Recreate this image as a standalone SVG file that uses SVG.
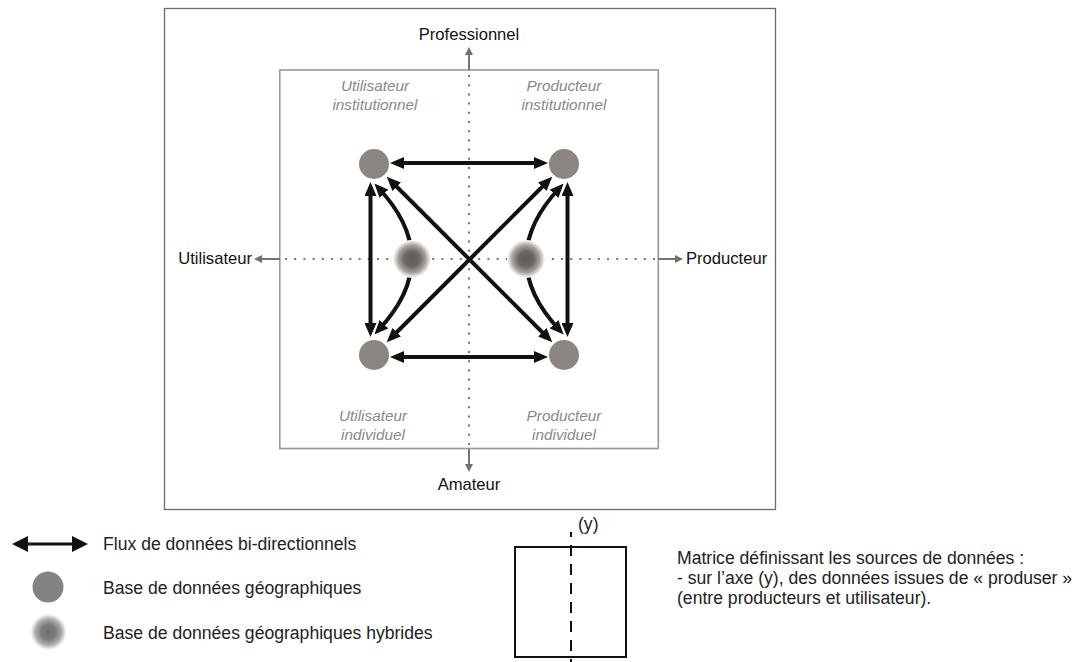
<svg xmlns="http://www.w3.org/2000/svg" width="1083" height="662" viewBox="0 0 1083 662">
<style>
.frame{fill:none;stroke:#6f6b68;stroke-width:1.3}
.inner{fill:none;stroke:#9b9793;stroke-width:1.6}
.dots{fill:none;stroke:#77736f;stroke-width:2;stroke-dasharray:2 7.2}
.ax{fill:none;stroke:#75716d;stroke-width:2}
.flow{fill:none;stroke:#111;stroke-width:4}
.node{fill:#8b8681}
.lbl{font-family:"Liberation Sans",Arial,sans-serif;font-size:16.6px;fill:#111}
.quad{font-family:"Liberation Sans",Arial,sans-serif;font-size:15.3px;font-style:italic;fill:#8c8783;text-anchor:middle}
.leg{font-family:"Liberation Sans",Arial,sans-serif;font-size:17.6px;fill:#222}
</style>
<defs>
<marker id="ah" viewBox="0 0 14 12" refX="8" refY="6" markerWidth="14" markerHeight="12" markerUnits="userSpaceOnUse" orient="auto-start-reverse"><path d="M0,0 L14,6 L0,12 z" fill="#111"/></marker>
<marker id="ahL" viewBox="0 0 16 16" refX="10" refY="8" markerWidth="16" markerHeight="16" markerUnits="userSpaceOnUse" orient="auto-start-reverse"><path d="M0,0 L16,8 L0,16 z" fill="#111"/></marker>
<marker id="ag" viewBox="0 0 8 8" refX="4" refY="4" markerWidth="8" markerHeight="8" markerUnits="userSpaceOnUse" orient="auto"><path d="M0,0 L8,4 L0,8 z" fill="#75716d"/></marker>
<radialGradient id="hyb" cx="0.5" cy="0.5" r="0.5">
<stop offset="0" stop-color="#605b57"/>
<stop offset="0.4" stop-color="#6b6662"/>
<stop offset="0.72" stop-color="#a5a19d"/>
<stop offset="1" stop-color="#ffffff"/>
</radialGradient>
<radialGradient id="hybL" cx="0.5" cy="0.5" r="0.5">
<stop offset="0" stop-color="#727272"/>
<stop offset="0.4" stop-color="#7c7c7c"/>
<stop offset="0.72" stop-color="#ababab"/>
<stop offset="1" stop-color="#ffffff"/>
</radialGradient>
</defs>
<rect width="1083" height="662" fill="#fff"/>
<g id="frame">
<rect class="frame" x="164.5" y="8.5" width="611" height="501"/>
<rect class="inner" x="279.8" y="70" width="378.5" height="378.5"/>
</g>
<g id="axes">
<line class="dots" x1="469" y1="75" x2="469" y2="446"/>
<line class="dots" x1="285" y1="259" x2="656" y2="259"/>
<line class="ax" x1="469" y1="70" x2="469" y2="51" marker-end="url(#ag)"/>
<line class="ax" x1="469" y1="449" x2="469" y2="468" marker-end="url(#ag)"/>
<line class="ax" x1="280" y1="259" x2="258" y2="259" marker-end="url(#ag)"/>
<line class="ax" x1="658" y1="259" x2="679" y2="259" marker-end="url(#ag)"/>
<text class="lbl" x="469" y="40" text-anchor="middle">Professionnel</text>
<text class="lbl" x="469" y="490" text-anchor="middle">Amateur</text>
<text class="lbl" x="252" y="264" text-anchor="end">Utilisateur</text>
<text class="lbl" x="686" y="264">Producteur</text>
</g>
<g id="quadrant-labels">
<text class="quad" x="375" y="91">Utilisateur</text>
<text class="quad" x="375" y="110">institutionnel</text>
<text class="quad" x="564" y="91">Producteur</text>
<text class="quad" x="564" y="110">institutionnel</text>
<text class="quad" x="373" y="421">Utilisateur</text>
<text class="quad" x="373" y="440">individuel</text>
<text class="quad" x="564" y="421">Producteur</text>
<text class="quad" x="564" y="440">individuel</text>
</g>
<g id="connectors">
<line class="flow" x1="396" y1="163" x2="542" y2="163" marker-start="url(#ah)" marker-end="url(#ah)"/>
<line class="flow" x1="396" y1="357" x2="542" y2="357" marker-start="url(#ah)" marker-end="url(#ah)"/>
<line class="flow" x1="370.5" y1="188" x2="370.5" y2="331" marker-start="url(#ah)" marker-end="url(#ah)"/>
<line class="flow" x1="567.5" y1="188" x2="567.5" y2="331" marker-start="url(#ah)" marker-end="url(#ah)"/>
<line class="flow" x1="391" y1="181" x2="548" y2="338" marker-start="url(#ah)" marker-end="url(#ah)"/>
<line class="flow" x1="548" y1="181" x2="391" y2="338" marker-start="url(#ah)" marker-end="url(#ah)"/>
<path class="flow" d="M378.5,188 Q445,259 378.5,330" marker-start="url(#ah)" marker-end="url(#ah)"/>
<path class="flow" d="M559.5,188 Q493,259 559.5,330" marker-start="url(#ah)" marker-end="url(#ah)"/>
</g>
<g id="node-utilisateur-institutionnel"><circle class="node" cx="374" cy="164" r="15"/></g>
<g id="node-producteur-institutionnel"><circle class="node" cx="564" cy="164" r="15"/></g>
<g id="node-utilisateur-individuel"><circle class="node" cx="374" cy="355" r="15"/></g>
<g id="node-producteur-individuel"><circle class="node" cx="564" cy="355" r="15"/></g>
<g id="node-hybride-utilisateur"><circle cx="412" cy="259" r="19" fill="url(#hyb)"/></g>
<g id="node-hybride-producteur"><circle cx="526" cy="259" r="19" fill="url(#hyb)"/></g>
<g id="legend">
<line x1="18" y1="544" x2="82" y2="544" stroke="#111" stroke-width="3" marker-start="url(#ahL)" marker-end="url(#ahL)"/>
<text class="leg" x="103" y="550">Flux de données bi-directionnels</text>
<circle cx="48" cy="587" r="15.5" fill="#838383"/>
<text class="leg" x="103" y="594">Base de données géographiques</text>
<circle cx="48.5" cy="632" r="18" fill="url(#hybL)"/>
<text class="leg" x="103" y="639">Base de données géographiques hybrides</text>
</g>
<g id="legend-matrix">
<rect x="515" y="547" width="111" height="110" fill="none" stroke="#111" stroke-width="2"/>
<line x1="571" y1="532" x2="571" y2="662" stroke="#111" stroke-width="2" stroke-dasharray="11 8" stroke-dashoffset="6"/>
<text class="leg" x="578" y="530">(y)</text>
<text class="leg" x="677" y="564">Matrice définissant les sources de données :</text>
<text class="leg" x="677" y="584">- sur l’axe (y), des données issues de « produser »</text>
<text class="leg" x="677" y="604">(entre producteurs et utilisateur).</text>
</g>
</svg>
